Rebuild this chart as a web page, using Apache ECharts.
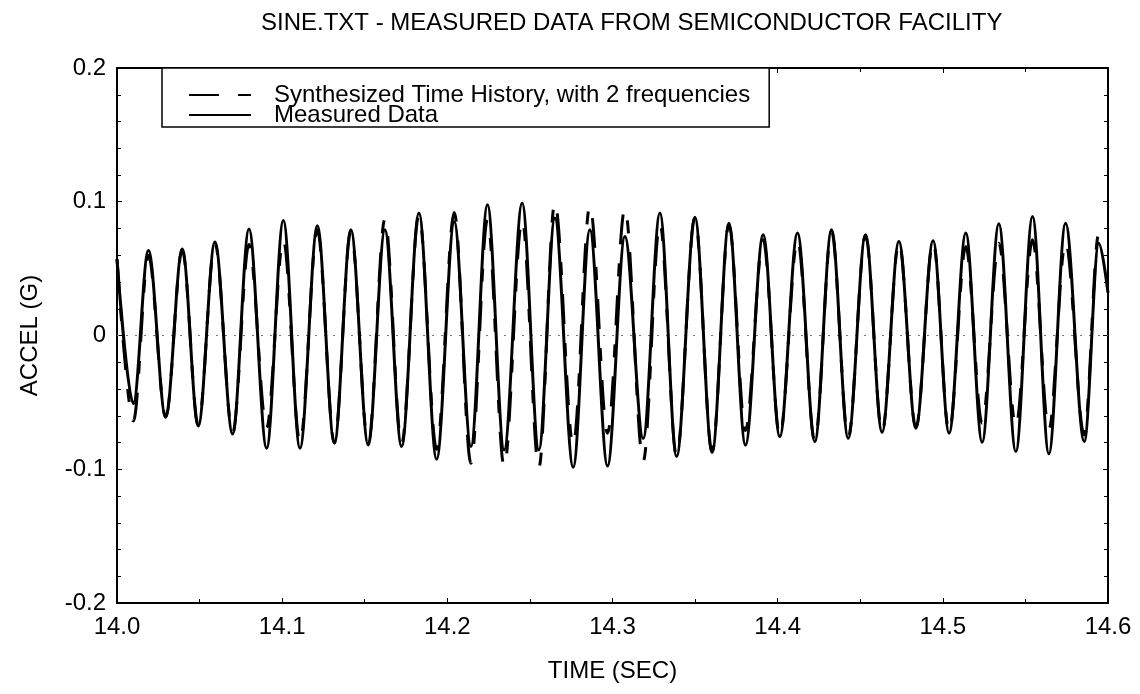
<!DOCTYPE html>
<html>
<head>
<meta charset="utf-8">
<script src="https://cdn.jsdelivr.net/npm/echarts@6/dist/echarts.min.js"></script>
<style>
html,body{margin:0;padding:0;background:#fff;}
#chart{width:1140px;height:694px;}
</style>
</head>
<body>
<div id="chart"></div>
<script>
// Times (s) of the peaks/troughs
var times = [14.0000, 14.0099, 14.0190, 14.0295, 14.0395, 14.0492, 14.0593, 14.0700, 14.0799, 14.0906,
  14.1007, 14.1108, 14.1213, 14.1316, 14.1416, 14.1521, 14.1622, 14.1723, 14.1828, 14.1935,
  14.2042, 14.2143, 14.2243, 14.2344, 14.2453, 14.2554, 14.2651, 14.2762, 14.2863, 14.2970,
  14.3075, 14.3186, 14.3287, 14.3388, 14.3499, 14.3603, 14.3705, 14.3805, 14.3912, 14.4013,
  14.4120, 14.4225, 14.4326, 14.4427, 14.4532, 14.4632, 14.4734, 14.4837, 14.4941, 14.5038,
  14.5139, 14.5238, 14.5339, 14.5442, 14.5543, 14.5642, 14.5743, 14.5856, 14.5944, 14.6000];

// Measured data (solid), G
var measured = [0.057, -0.051, 0.0636, -0.061, 0.0646, -0.0676, 0.070, -0.0736, 0.0796, -0.0843,
  0.086, -0.0843, 0.082, -0.0805, 0.079, -0.0818, 0.079, -0.083, 0.0915, -0.0925,
  0.085, -0.083, 0.0978, -0.0855, 0.099, -0.0855, 0.0878, -0.0985, 0.079, -0.0975,
  0.074, -0.077, 0.0915, -0.0905, 0.0885, -0.0875, 0.084, -0.082, 0.0753, -0.0756,
  0.0766, -0.0793, 0.079, -0.0768, 0.0753, -0.0723, 0.0703, -0.0693, 0.0708, -0.073,
  0.0766, -0.0798, 0.0835, -0.0868, 0.089, -0.0885, 0.084, -0.0793, 0.069, 0.032];

// Synthesized time history, 2 frequencies (dashed), G
var synthesized = [0.057, -0.064, 0.060, -0.061, 0.064, -0.067, 0.069, -0.073, 0.068, -0.069,
  0.0716, -0.080, 0.079, -0.080, 0.078, -0.081, 0.087, -0.081, 0.090, -0.085,
  0.092, -0.0955, 0.0865, -0.098, 0.0865, -0.099, 0.0995, -0.082, 0.097, -0.073,
  0.095, -0.094, 0.084, -0.090, 0.088, -0.087, 0.083, -0.071, 0.0716, -0.075,
  0.0716, -0.079, 0.078, -0.076, 0.075, -0.072, 0.070, -0.069, 0.070, -0.072,
  0.0666, -0.0656, 0.069, -0.068, 0.0716, -0.0706, 0.070, -0.0743, 0.076, 0.079];

var xTicks = [14.0, 14.1, 14.2, 14.3, 14.4, 14.5, 14.6];
var yTicks = [-0.2, -0.1, 0, 0.1, 0.2];

var titleText = 'SINE.TXT - MEASURED DATA FROM SEMICONDUCTOR FACILITY';
var seriesNames = ['Synthesized Time History, with 2 frequencies', 'Measured Data'];

function pairs(vals) { return times.map(function (t, i) { return [t, vals[i]]; }); }

var FONT = "'Liberation Sans', Arial, sans-serif";
var chart = echarts.init(document.getElementById('chart'), null, { renderer: 'canvas' });

var axisLineStyle = { show: true, onZero: false, lineStyle: { color: '#000', width: 2 } };
var tickStyle = { show: true, inside: true, length: 5, lineStyle: { color: '#000', width: 1 } };

chart.setOption({
  animation: false,
  backgroundColor: '#fff',
  textStyle: { fontFamily: FONT, color: '#000' },
  title: {
    text: titleText,
    left: 256, top: 6,
    textStyle: { fontFamily: FONT, fontSize: 24, fontWeight: 'normal', color: '#000' }
  },
  legend: {
    orient: 'vertical',
    left: 162, top: 68,
    padding: [15, 19, 0, 26],
    borderColor: '#000', borderWidth: 1.5,
    backgroundColor: '#fff',
    itemWidth: 62, itemHeight: 14, itemGap: -4,
    itemStyle: { opacity: 0 },
    textStyle: { fontFamily: FONT, fontSize: 24, lineHeight: 21, color: '#000', padding: [0, 0, 0, 18] },
    data: seriesNames
  },
  grid: { left: 117, right: 32, top: 68, bottom: 91, containLabel: false },
  xAxis: [{
    type: 'value', min: 14.0, max: 14.6, interval: 0.1,
    axisLine: axisLineStyle,
    axisTick: tickStyle,
    minorTick: { show: true, splitNumber: 2, length: 4, lineStyle: { color: '#000', width: 1 } },
    splitLine: { show: false },
    axisLabel: {
      margin: 12, fontSize: 24, fontFamily: FONT, color: '#000',
      formatter: function (v) { return v.toFixed(1); }
    },
    name: 'TIME (SEC)', nameLocation: 'middle', nameGap: 56,
    nameTextStyle: { fontSize: 24, fontFamily: FONT, color: '#000' }
  }, {
    type: 'value', position: 'top', min: 14.0, max: 14.6, interval: 0.1,
    axisLine: axisLineStyle,
    axisTick: tickStyle,
    minorTick: { show: true, splitNumber: 2, length: 4, lineStyle: { color: '#000', width: 1 } },
    splitLine: { show: false }, axisLabel: { show: false }
  }],
  yAxis: [{
    type: 'value', min: -0.2, max: 0.2, interval: 0.1,
    axisLine: axisLineStyle,
    axisTick: tickStyle,
    minorTick: { show: true, splitNumber: 5, length: 4, lineStyle: { color: '#000', width: 1 } },
    splitLine: { show: false },
    axisLabel: {
      margin: 11, fontSize: 24, fontFamily: FONT, color: '#000',
      formatter: function (v) { var r = Math.round(v * 10) / 10; return r === 0 ? '0' : String(r); }
    },
    name: 'ACCEL (G)', nameLocation: 'middle', nameGap: 75, nameRotate: 90,
    nameTextStyle: { fontSize: 24, fontFamily: FONT, color: '#000' }
  }, {
    type: 'value', position: 'right', min: -0.2, max: 0.2, interval: 0.1,
    axisLine: axisLineStyle,
    axisTick: tickStyle,
    minorTick: { show: true, splitNumber: 5, length: 4, lineStyle: { color: '#000', width: 1 } },
    splitLine: { show: false }, axisLabel: { show: false }
  }],
  series: [{
    name: seriesNames[1],
    type: 'line',
    data: pairs(measured),
    showSymbol: false, symbol: 'none',
    smooth: 0.34, smoothMonotone: 'x',
    lineStyle: { color: '#000', width: 3, type: 'solid' },
    itemStyle: { color: '#000' },
    z: 3,
    markLine: {
      silent: true, symbol: 'none', label: { show: false },
      lineStyle: { color: '#777', type: [2, 7], width: 1.2 },
      data: [{ yAxis: 0 }],
      z: 1
    }
  }, {
    name: seriesNames[0],
    type: 'line',
    data: pairs(synthesized),
    showSymbol: false, symbol: 'none',
    smooth: 0.34, smoothMonotone: 'x',
    lineStyle: { color: '#000', width: 3, type: [30, 19, 13, 19] },
    itemStyle: { color: '#000' },
    z: 4
  }]
});
</script>
</body>
</html>
